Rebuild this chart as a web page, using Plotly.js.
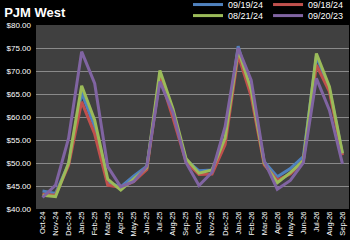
<!DOCTYPE html>
<html><head><meta charset="utf-8">
<script src="https://cdn.plot.ly/plotly-3.0.1.min.js"></script>
<style>html,body{margin:0;padding:0;background:#000;}#c{width:350px;height:240px;}</style>
</head><body><div id="c"></div>
<script>
const months = ["Oct-24","Nov-24","Dec-24","Jan-25","Feb-25","Mar-25","Apr-25","May-25","Jun-25","Jul-25","Aug-25","Sep-25","Oct-25","Nov-25","Dec-25","Jan-26","Feb-26","Mar-26","Apr-26","May-26","Jun-26","Jul-26","Aug-26","Sep-26"];
const s091924 = [43.9,43.4,49.8,65.3,57.8,45.8,44.8,47.2,49.3,68.5,60.8,50.7,48.3,48.5,55.0,75.4,65.3,50.3,47.0,48.8,51.4,73.2,66.0,52.0];
const s091824 = [43.2,43.0,49.5,63.3,56.3,45.2,44.7,46.0,48.6,68.8,59.8,50.3,47.5,47.6,54.0,73.5,64.5,49.6,46.3,47.6,50.6,71.3,65.5,51.7];
const s082124 = [43.0,42.7,50.0,66.8,59.3,46.5,44.1,46.6,49.0,70.1,61.8,51.0,47.8,48.5,55.4,74.6,65.9,50.0,45.7,47.9,50.5,73.8,66.6,52.1];
const s092023 = [42.5,45.2,55.4,74.2,67.3,49.2,44.8,46.0,49.3,67.7,61.0,50.1,45.1,48.0,57.9,75.0,68.0,50.4,44.3,46.2,50.1,68.4,61.5,49.8];
const names = ["09/19/24","09/18/24","08/21/24","09/20/23"];
const colors = ["#4f81bd","#c0504d","#9bbb59","#8064a2"];
const series = [s091924, s091824, s082124, s092023];
const legendIds = ["legend","legend","legend2","legend2"];

const traces = series.map((s,i)=>({
  x: months, y: s, name: names[i], type:'scatter', mode:'lines',
  line:{color:colors[i], width:3}, legend: legendIds[i]
}));

const fam = "Liberation Sans Narrow, Liberation Sans, Arial, sans-serif";
const layout = {
  width:350, height:240,
  paper_bgcolor:"#000000", plot_bgcolor:"#404040",
  margin:{l:36, r:1, t:25, b:31, autoexpand:false},
  font: {family:fam, color:"#ffffff", size:8},
  title:{text:"<b>PJM West</b>", x:0.012, xanchor:'left', y:0.95, yanchor:'middle', font:{family:"Liberation Sans, Arial, sans-serif", size:13, color:"#ffffff"}},
  xaxis:{type:'category', range:[-0.5,23.5], tickangle:-90, tickfont:{family:fam, size:7.5, color:"#ffffff"}, showgrid:false, ticks:'', showline:false, zeroline:false, fixedrange:true, automargin:false},
  yaxis:{range:[40,80], dtick:5, tickprefix:"$", tickformat:".2f", tickfont:{family:fam, size:8, color:"#ffffff"}, showgrid:true, gridcolor:"#8a8a8a", gridwidth:1, zeroline:false, showline:false, ticks:'', ticklabelstandoff:4, fixedrange:true, automargin:false},
  showlegend:true,
  legend:{orientation:'h', x:1, xanchor:'right', y:1.19, yanchor:'top', yref:'paper', bgcolor:'rgba(0,0,0,0)', font:{family:fam, size:9, color:"#ffffff"}, itemwidth:30, traceorder:'normal'},
  legend2:{orientation:'h', x:1, xanchor:'right', y:1.13, yanchor:'top', yref:'paper', bgcolor:'rgba(0,0,0,0)', font:{family:fam, size:9, color:"#ffffff"}, itemwidth:30, traceorder:'normal'}
};
Plotly.newPlot('c', traces, layout, {staticPlot:true, displayModeBar:false});
</script></body></html>
